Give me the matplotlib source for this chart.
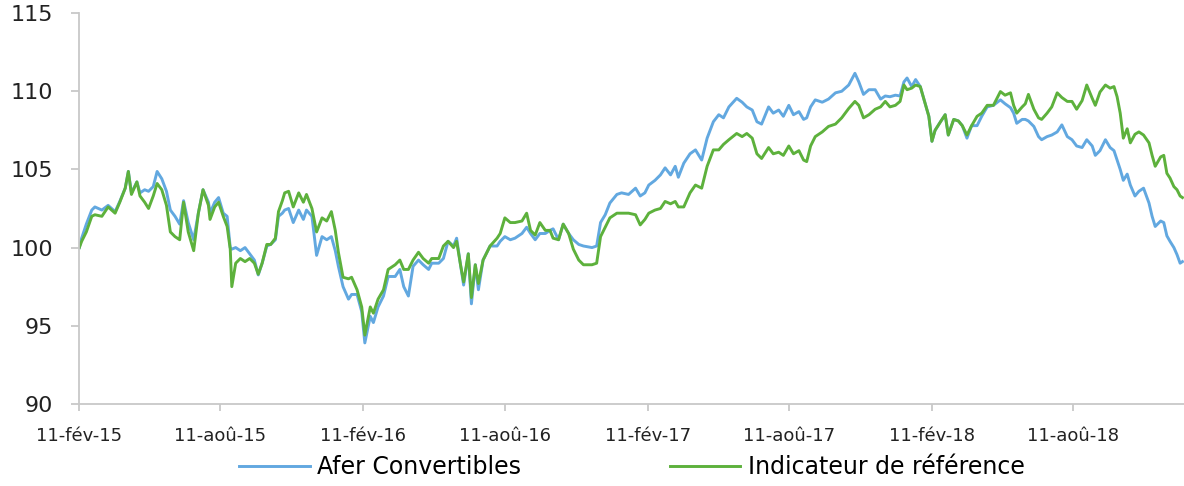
import matplotlib
matplotlib.use("Agg")
import matplotlib.pyplot as plt
import pandas as pd

# jours écoulés depuis le 11-fév-15 pour chaque relevé
jours = [0, 3, 9, 16, 20, 29, 37, 46, 52, 59, 63, 67, 74, 78, 84, 89, 95, 100, 106, 112,
         117, 123, 129, 134, 140, 147, 153, 159, 166, 168, 174, 179, 185, 190, 194, 196, 201, 207, 213, 219,
         225, 230, 235, 241, 246, 252, 256, 261, 264, 269, 275, 282, 288, 292, 299, 305, 312, 318, 324, 329,
         333, 339, 346, 350, 357, 363, 367, 374, 378, 384, 391, 397, 406, 412, 417, 423, 429, 436, 442, 449,
         453, 462, 468, 474, 481, 485, 490, 494, 500, 504, 509, 513, 519, 528, 537, 541, 547, 554, 560, 569,
         575, 580, 586, 592, 599, 605, 609, 616, 622, 629, 635, 642, 648, 659, 665, 670, 676, 682, 691, 697,
         706, 715, 721, 727, 732, 740, 747, 753, 760, 766, 770, 777, 785, 792, 800, 807, 815, 822, 828, 835,
         845, 852, 858, 865, 871, 877, 886, 892, 899, 905, 912, 918, 925, 931, 935, 940, 946, 955, 963, 972,
         980, 989, 997, 1002, 1008, 1015, 1023, 1030, 1036, 1042, 1049, 1055, 1060, 1064, 1070, 1075, 1081, 1087, 1092, 1096,
         1100, 1107, 1113, 1117, 1124, 1130, 1135, 1141, 1147, 1154, 1160, 1167, 1175, 1184, 1190, 1197, 1201, 1205, 1212, 1216,
         1220, 1227, 1233, 1237, 1244, 1250, 1257, 1263, 1270, 1276, 1282, 1289, 1295, 1302, 1306, 1312, 1319, 1325, 1330, 1334,
         1338, 1342, 1347, 1351, 1357, 1362, 1368, 1375, 1379, 1383, 1390, 1394, 1398, 1402, 1407, 1411, 1415, 1418]

afer = [100.0, 100.6, 101.5, 102.4, 102.6, 102.4, 102.7, 102.3, 102.95, 103.8, 104.87, 103.5, 104.2, 103.5, 103.7, 103.6, 103.9, 104.87, 104.4, 103.6,
        102.4, 102.0, 101.5, 103.0, 101.6, 100.5, 102.2, 103.7, 102.9, 102.2, 102.9, 103.2, 102.2, 102.0, 100.0, 99.9, 100.0, 99.8, 100.0, 99.6,
        99.2, 98.25, 99.0, 100.1, 100.2, 100.5, 102.0, 102.2, 102.4, 102.5, 101.6, 102.4, 101.8, 102.4, 102.0, 99.5, 100.7, 100.5, 100.7, 99.8,
        98.8, 97.5, 96.7, 97.0, 97.0, 95.9, 93.9, 95.6, 95.2, 96.2, 96.9, 98.15, 98.15, 98.6, 97.5, 96.9, 98.8, 99.2, 98.9, 98.6,
        99.0, 99.0, 99.3, 100.4, 100.1, 100.6, 98.9, 97.6, 99.6, 96.4, 98.9, 97.3, 99.2, 100.1, 100.1, 100.4, 100.7, 100.5, 100.6, 100.9,
        101.3, 100.9, 100.5, 100.9, 100.9, 101.1, 101.2, 100.5, 101.5, 100.9, 100.5, 100.2, 100.1, 100.0, 100.1, 101.6, 102.1, 102.85, 103.4, 103.5,
        103.4, 103.8, 103.3, 103.5, 104.0, 104.3, 104.65, 105.1, 104.65, 105.2, 104.5, 105.4, 106.0, 106.25, 105.6, 107.0, 108.05, 108.5, 108.3, 109.0,
        109.55, 109.3, 109.0, 108.8, 108.05, 107.9, 109.0, 108.6, 108.8, 108.4, 109.1, 108.5, 108.7, 108.2, 108.3, 109.0, 109.45, 109.3, 109.5, 109.9,
        110.0, 110.4, 111.15, 110.6, 109.8, 110.1, 110.1, 109.5, 109.7, 109.65, 109.75, 109.7, 110.6, 110.85, 110.3, 110.75, 110.3, 109.25, 108.4, 106.8,
        107.5, 108.05, 108.5, 107.2, 108.2, 108.1, 107.8, 107.0, 107.8, 107.8, 108.4, 109.0, 109.1, 109.45, 109.2, 108.95, 108.6, 107.95, 108.2, 108.2,
        108.1, 107.75, 107.1, 106.9, 107.1, 107.2, 107.4, 107.85, 107.1, 106.9, 106.5, 106.4, 106.9, 106.5, 105.9, 106.2, 106.9, 106.4, 106.2, 105.6,
        105.0, 104.3, 104.7, 104.0, 103.3, 103.6, 103.8, 102.85, 102.0, 101.35, 101.7, 101.6, 100.75, 100.4, 100.0, 99.55, 99.0, 99.1]

indicateur = [100.0, 100.4, 101.0, 102.0, 102.1, 102.0, 102.6, 102.2, 102.9, 103.8, 104.87, 103.4, 104.2, 103.3, 102.9, 102.5, 103.3, 104.1, 103.7, 102.7,
              101.0, 100.7, 100.5, 102.9, 101.0, 99.8, 102.2, 103.7, 102.7, 101.8, 102.6, 102.9, 102.0, 101.35, 99.9, 97.5, 99.0, 99.3, 99.1, 99.3,
              99.0, 98.3, 99.0, 100.2, 100.2, 100.6, 102.3, 103.0, 103.5, 103.6, 102.6, 103.5, 102.9, 103.4, 102.5, 101.0, 101.9, 101.7, 102.3, 101.1,
              99.7, 98.1, 98.0, 98.1, 97.3, 96.2, 94.4, 96.2, 95.8, 96.7, 97.3, 98.6, 98.9, 99.2, 98.6, 98.6, 99.2, 99.7, 99.3, 99.0,
              99.3, 99.3, 100.1, 100.4, 100.0, 100.4, 98.9, 97.8, 99.6, 96.8, 98.9, 97.7, 99.2, 100.1, 100.6, 100.9, 101.9, 101.6, 101.6, 101.7,
              102.2, 101.1, 100.8, 101.6, 101.1, 101.1, 100.6, 100.5, 101.5, 100.9, 99.9, 99.2, 98.9, 98.9, 99.0, 100.7, 101.3, 101.9, 102.2, 102.2,
              102.2, 102.1, 101.45, 101.8, 102.2, 102.4, 102.5, 102.95, 102.8, 102.95, 102.6, 102.6, 103.5, 104.0, 103.8, 105.2, 106.25, 106.25, 106.6, 106.9,
              107.3, 107.1, 107.3, 107.0, 106.0, 105.7, 106.4, 106.0, 106.1, 105.9, 106.5, 106.0, 106.2, 105.6, 105.5, 106.5, 107.1, 107.4, 107.75, 107.9,
              108.3, 108.9, 109.35, 109.1, 108.3, 108.5, 108.85, 109.0, 109.35, 109.0, 109.1, 109.35, 110.4, 110.1, 110.2, 110.4, 110.3, 109.25, 108.4, 106.8,
              107.5, 108.05, 108.5, 107.2, 108.2, 108.1, 107.8, 107.2, 107.8, 108.4, 108.6, 109.1, 109.1, 109.98, 109.75, 109.9, 109.1, 108.6, 109.0, 109.2,
              109.8, 108.85, 108.3, 108.2, 108.6, 109.0, 109.9, 109.6, 109.35, 109.35, 108.85, 109.4, 110.4, 109.55, 109.1, 109.95, 110.4, 110.2, 110.3, 109.65,
              108.6, 107.0, 107.6, 106.7, 107.25, 107.4, 107.2, 106.7, 105.9, 105.2, 105.8, 105.9, 104.75, 104.45, 103.9, 103.7, 103.3, 103.2]

ticks = ["2015-02-11", "2015-08-11", "2016-02-11", "2016-08-11",
         "2017-02-11", "2017-08-11", "2018-02-11", "2018-08-11"]
tick_labels = ["11-fév-15", "11-aoû-15", "11-fév-16", "11-aoû-16",
               "11-fév-17", "11-aoû-17", "11-fév-18", "11-aoû-18"]

debut = pd.Timestamp("2015-02-11")
dates = debut + pd.to_timedelta(jours, unit="D")

fig = plt.figure(figsize=(11.84, 4.86), dpi=100)
ax = fig.add_axes([0.067, 0.169, 0.933, 0.804])

ax.plot(dates, afer, color="#62A8E0", lw=2.1, label="Afer Convertibles")
ax.plot(dates, indicateur, color="#5DB13C", lw=2.1, label="Indicateur de référence")

ax.set_xlim(debut, debut + pd.Timedelta(days=1420))
ax.set_ylim(90, 115)
ax.set_yticks([90, 95, 100, 105, 110, 115])
ax.set_xticks(pd.to_datetime(ticks))
ax.set_xticklabels(tick_labels)

for s in ["top", "right"]:
    ax.spines[s].set_visible(False)
for s in ["left", "bottom"]:
    ax.spines[s].set_color("#C8C8C8")
    ax.spines[s].set_linewidth(1.3)

ax.tick_params(axis="y", labelsize=16, length=6, width=1.3, color="#C8C8C8", pad=13, labelcolor="#222222")
ax.tick_params(axis="x", labelsize=13, length=5, width=1.3, color="#C8C8C8", pad=12, labelcolor="#222222")

ax.legend(loc="center", bbox_to_anchor=(0.5, -0.161), ncol=2, frameon=False,
          fontsize=17, handlelength=3.0, handletextpad=0.3, columnspacing=6.3)

fig.savefig("out.png", dpi=100)
